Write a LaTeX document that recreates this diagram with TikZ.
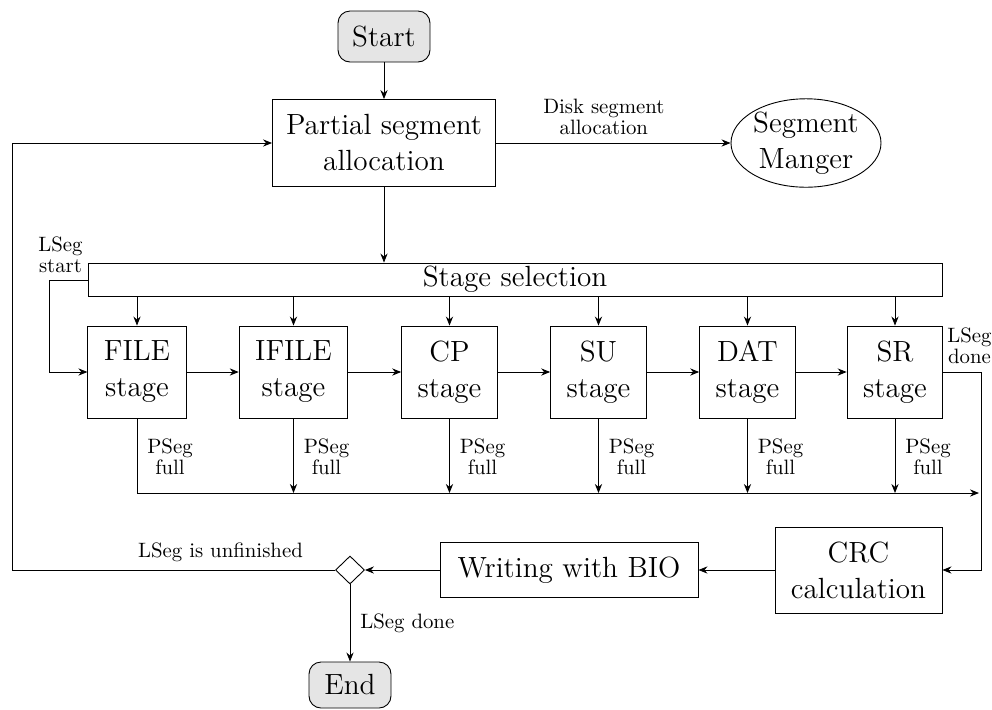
\documentclass[tikz,border=0pt]{standalone}
\usetikzlibrary{shapes.geometric,arrows.meta}
\begin{document}
\begin{tikzpicture}[x=0.5pt,y=-0.5pt,
  bigfont/.style={font=\fontsize{14.6}{18}\selectfont},
  lbl/.style={font=\fontsize{10.4}{10.6}\selectfont, align=center, inner sep=0pt},
  box/.style={draw, line width=0.45pt, align=center, bigfont, inner sep=0pt},
  term/.style={box, rounded corners=6pt, fill=gray!20},
  stagebox/.style={box, minimum width=47.5pt, minimum height=46pt, inner xsep=8pt},
  arr/.style={-{Stealth[length=4.5pt,width=3.6pt]}, line width=0.45pt},
  ln/.style={line width=0.45pt}]
\useasboundingbox (0,0) rectangle (992,709);

% nodes
\node[term, minimum width=46pt, minimum height=25.5pt] (start) at (384,36.5) {Start};
\node[box, minimum width=111.5pt, minimum height=43.5pt] (psa) at (384,143) {Partial segment\\allocation};
\node[ellipse, draw, ln, bigfont, align=center, minimum width=75pt, minimum height=43.5pt, inner sep=0pt] (sm) at (806,143) {Segment\\Manger};
\node[box, minimum width=427pt, minimum height=16.5pt] (sel) at (515,279.5) {Stage selection};

\node[stagebox] (s1) at (137,372) {FILE\\stage};
\node[stagebox] (s2) at (293.5,372) {IFILE\\stage};
\node[stagebox] (s3) at (449.5,372) {CP\\stage};
\node[stagebox] (s4) at (598.5,372) {SU\\stage};
\node[stagebox] (s5) at (747.5,372) {DAT\\stage};
\node[stagebox] (s6) at (895,372) {SR\\stage};

\node[box, minimum width=83.5pt, minimum height=43pt] (crc) at (858.5,570) {CRC\\calculation};
\node[box, minimum width=129pt, minimum height=27.5pt] (wb) at (569,570) {Writing with BIO};
\node[diamond, draw, ln, minimum width=14.5pt, minimum height=14pt, inner sep=0pt] (dec) at (350,570) {};
\node[term, minimum width=41pt, minimum height=23pt] (end) at (350,685) {End};

% coordinates
\coordinate (ls) at (49,280);
\coordinate (rd) at (981,372);
\coordinate (busR) at (979,493);
\coordinate (lp) at (12,570);
\coordinate (lt) at (12,143);

% connectors
\draw[arr] (start) -- (psa);
\draw[arr] (psa.south) -- (psa.south |- sel.north);
\draw[arr] (psa) -- node[lbl, pos=0.46, above=4pt] {Disk segment\\allocation} (sm);

\foreach \s in {s1,s2,s3,s4,s5,s6}
  \draw[arr] (sel.south -| \s.north) -- (\s.north);

\draw[arr] (s1) -- (s2);
\draw[arr] (s2) -- (s3);
\draw[arr] (s3) -- (s4);
\draw[arr] (s4) -- (s5);
\draw[arr] (s5) -- (s6);

\draw[arr] (sel.west |- ls) -- (ls) |- (s1.west);
\node[lbl] at (60.5,255) {LSeg\\start};

\draw[arr] (s6.east) -- (rd) |- (crc.east);
\node[lbl] at (969.5,346) {LSeg\\done};

\draw[arr] (s1.south) -- (s1.south |- busR) -- (busR);
\foreach \s in {s2,s3,s4,s5,s6}
  \draw[arr] (\s.south) -- (\s.south |- busR);
\foreach \x in {137,293.5,449.5,598.5,747.5,895}
  \node[lbl] at (\x+33,457) {PSeg\\full};

\draw[arr] (crc) -- (wb);
\draw[arr] (wb) -- (dec);
\draw[arr] (dec.west) -- (lp) -- (lt) -- (psa.west);
\node[lbl] at (220.5,552) {LSeg is unfinished};
\draw[arr] (dec.south) -- (end.north);
\node[lbl, anchor=west] at (360,623) {LSeg done};
\end{tikzpicture}
\end{document}
